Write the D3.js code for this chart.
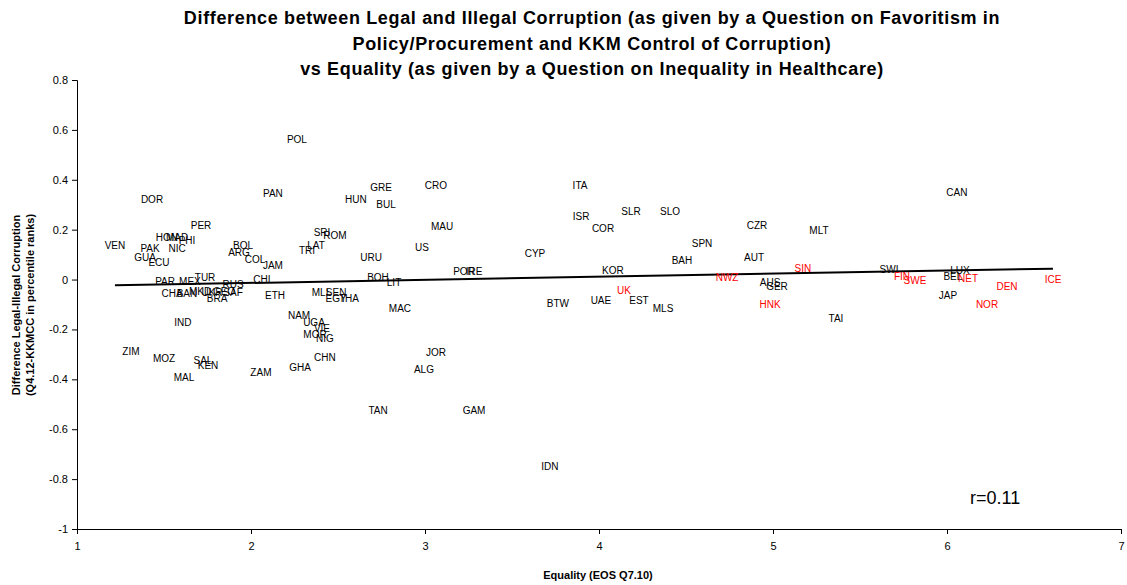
<!DOCTYPE html>
<html lang="en">
<head>
    <meta charset="UTF-8">
    <title>Legal vs Illegal Corruption and Equality</title>
    <script src="https://cdn.jsdelivr.net/npm/d3@7"></script>
    <style>
        body { margin: 0; background: white; }
        text { font-family: 'Liberation Sans', Arial, sans-serif; }
        .axis path, .axis line { stroke: black; stroke-width: 1px; }
        .axis text { font-size: 11px; fill: black; }
    </style>
</head>
<body>
    <div id="chart"></div>
    <script>
        // country codes, equality score (x), legal-illegal difference (y), highlighted (red)
        const codes = ["DOR","PAN","POL","PER","VEN","PAK","GUA","ECU","HON","MAD","PHI","NIC","BOL","ARG","COL","JAM",
            "TUR","PAR","MEX","RUS","CHI","CHA","BAN","MKD","UKR","GEO","SAF","BRA","ETH","IND","ZIM","MOZ","SAL","KEN",
            "MAL","ZAM","GHA","CHN","NAM","UGA","VIE","MOR","NIG","URU","BOH","LIT","POR","IRE","MLI","SEN","EGY","THA",
            "MAC","JOR","ALG","GRE","CRO","HUN","BUL","MAU","SRI","ROM","LAT","TRI","US","TAN","GAM","IDN","ITA","ISR",
            "SLR","SLO","COR","CYP","SPN","BAH","KOR","UK","BTW","UAE","EST","MLS","CZR","MLT","AUT","SIN","NWZ","AUS",
            "GER","HNK","TAI","CAN","SWI","FIN","SWE","LUX","BEL","NET","DEN","ICE","JAP","NOR"];
        const xValues = [1.431,2.126,2.264,1.713,1.218,1.420,1.391,1.471,1.517,1.575,1.632,1.575,1.954,1.931,2.023,2.126,
            1.736,1.506,1.649,1.897,2.063,1.546,1.632,1.707,1.776,1.845,1.897,1.805,2.138,1.609,1.310,1.500,1.724,1.753,
            1.615,2.057,2.282,2.425,2.276,2.362,2.408,2.368,2.425,2.690,2.730,2.822,3.224,3.282,2.397,2.489,2.489,2.563,
            2.856,3.063,2.994,2.747,3.063,2.603,2.776,3.098,2.408,2.483,2.374,2.322,2.983,2.730,3.282,3.718,3.891,3.897,
            4.184,4.408,4.023,3.632,4.592,4.477,4.080,4.144,3.764,4.011,4.230,4.368,4.908,5.264,4.891,5.172,4.736,4.983,
            5.023,4.983,5.362,6.057,5.667,5.741,5.816,6.075,6.034,6.121,6.345,6.609,6.006,6.230];
        const yValues = [0.319,0.343,0.563,0.215,0.135,0.123,0.087,0.067,0.167,0.167,0.155,0.123,0.135,0.107,0.079,0.055,
            0.010,-0.006,-0.006,-0.018,0.002,-0.054,-0.054,-0.046,-0.050,-0.046,-0.050,-0.074,-0.062,-0.174,-0.287,-0.315,-0.323,-0.343,
            -0.391,-0.371,-0.354,-0.314,-0.146,-0.174,-0.198,-0.222,-0.238,0.087,0.010,-0.010,0.034,0.034,-0.050,-0.050,-0.074,-0.074,
            -0.118,-0.294,-0.362,0.371,0.379,0.319,0.299,0.211,0.187,0.175,0.135,0.115,0.127,-0.526,-0.526,-0.751,0.379,0.251,
            0.271,0.271,0.203,0.103,0.143,0.075,0.038,-0.042,-0.094,-0.082,-0.082,-0.118,0.215,0.195,0.087,0.046,0.010,-0.010,
            -0.026,-0.098,-0.158,0.351,0.042,0.014,-0.002,0.038,0.014,0.006,-0.026,0.002,-0.062,-0.102];
        const redCodes = ["UK","SIN","NWZ","HNK","FIN","SWE","NET","DEN","ICE","NOR"];

        const xTicks = [1, 2, 3, 4, 5, 6, 7];
        const yTicks = [0.8, 0.6, 0.4, 0.2, 0, -0.2, -0.4, -0.6, -0.8, -1];

        const titleLines = [
            "Difference between Legal and Illegal Corruption (as given by a Question on Favoritism in",
            "Policy/Procurement and KKM Control of Corruption)",
            "vs Equality (as given by a Question on Inequality in Healthcare)"
        ];
        const yLabelLines = ["Difference Legal-Illegal Corruption", "(Q4.12-KKMCC in percentile ranks)"];
        const xLabel = "Equality (EOS Q7.10)";
        const rLabel = "r=0.11";

        const width = 1127, height = 585;
        const margin = { top: 80, right: 6, bottom: 56, left: 77 };

        const points = codes.map((c, i) => ({ code: c, x: xValues[i], y: yValues[i], red: redCodes.includes(c) }));

        const svg = d3.select("#chart").append("svg")
            .attr("width", width)
            .attr("height", height);

        const x = d3.scaleLinear().domain([1, 7]).range([margin.left, width - margin.right]);
        const y = d3.scaleLinear().domain([-1, 0.8]).range([height - margin.bottom, margin.top]);

        // Title
        svg.append("g").selectAll("text")
            .data(titleLines)
            .enter().append("text")
            .attr("x", 592)
            .attr("y", (d, i) => 24 + i * 25.5)
            .attr("text-anchor", "middle")
            .style("font-size", "18px")
            .style("letter-spacing", "0.65px")
            .style("font-weight", "bold")
            .text(d => d);

        // Axes (plain hyphen for negatives, like the original)
        const numFmt = d => String(+(+d).toFixed(1));

        svg.append("g")
            .attr("class", "axis")
            .attr("transform", `translate(0,${y(-1)})`)
            .call(d3.axisBottom(x).tickValues(xTicks).tickSize(5).tickPadding(8).tickFormat(numFmt));

        svg.append("g")
            .attr("class", "axis")
            .attr("transform", `translate(${x(1)},0)`)
            .call(d3.axisLeft(y).tickValues(yTicks).tickSize(5).tickPadding(4).tickFormat(numFmt));

        // Axis titles
        svg.append("text")
            .attr("x", 598)
            .attr("y", 579)
            .attr("text-anchor", "middle")
            .style("font-size", "11px")
            .style("font-weight", "bold")
            .text(xLabel);

        svg.append("g")
            .attr("transform", "translate(0,305) rotate(-90)")
            .selectAll("text")
            .data(yLabelLines)
            .enter().append("text")
            .attr("x", 0)
            .attr("y", (d, i) => 20 + i * 14)
            .attr("text-anchor", "middle")
            .style("font-size", "11px")
            .style("font-weight", "bold")
            .text(d => d);

        // Linear trend line (least squares)
        const mx = d3.mean(points, d => d.x), my = d3.mean(points, d => d.y);
        const slope = d3.sum(points, d => (d.x - mx) * (d.y - my)) / d3.sum(points, d => (d.x - mx) ** 2);
        const intercept = my - slope * mx;
        const xExt = d3.extent(points, d => d.x);
        svg.append("path")
            .datum(xExt.map(v => [v, intercept + slope * v]))
            .attr("fill", "none")
            .attr("stroke", "black")
            .attr("stroke-width", 2)
            .attr("d", d3.line().x(d => x(d[0])).y(d => y(d[1])));

        // Country labels
        svg.append("g").selectAll("text")
            .data(points)
            .enter().append("text")
            .attr("x", d => x(d.x))
            .attr("y", d => y(d.y))
            .attr("text-anchor", "middle")
            .attr("dy", "0.35em")
            .style("font-size", "10px")
            .attr("fill", d => d.red ? "#ff0000" : "black")
            .text(d => d.code);

        svg.append("text")
            .attr("x", 970)
            .attr("y", 504)
            .style("font-size", "18px")
            .text(rLabel);
    </script>
</body>
</html>
